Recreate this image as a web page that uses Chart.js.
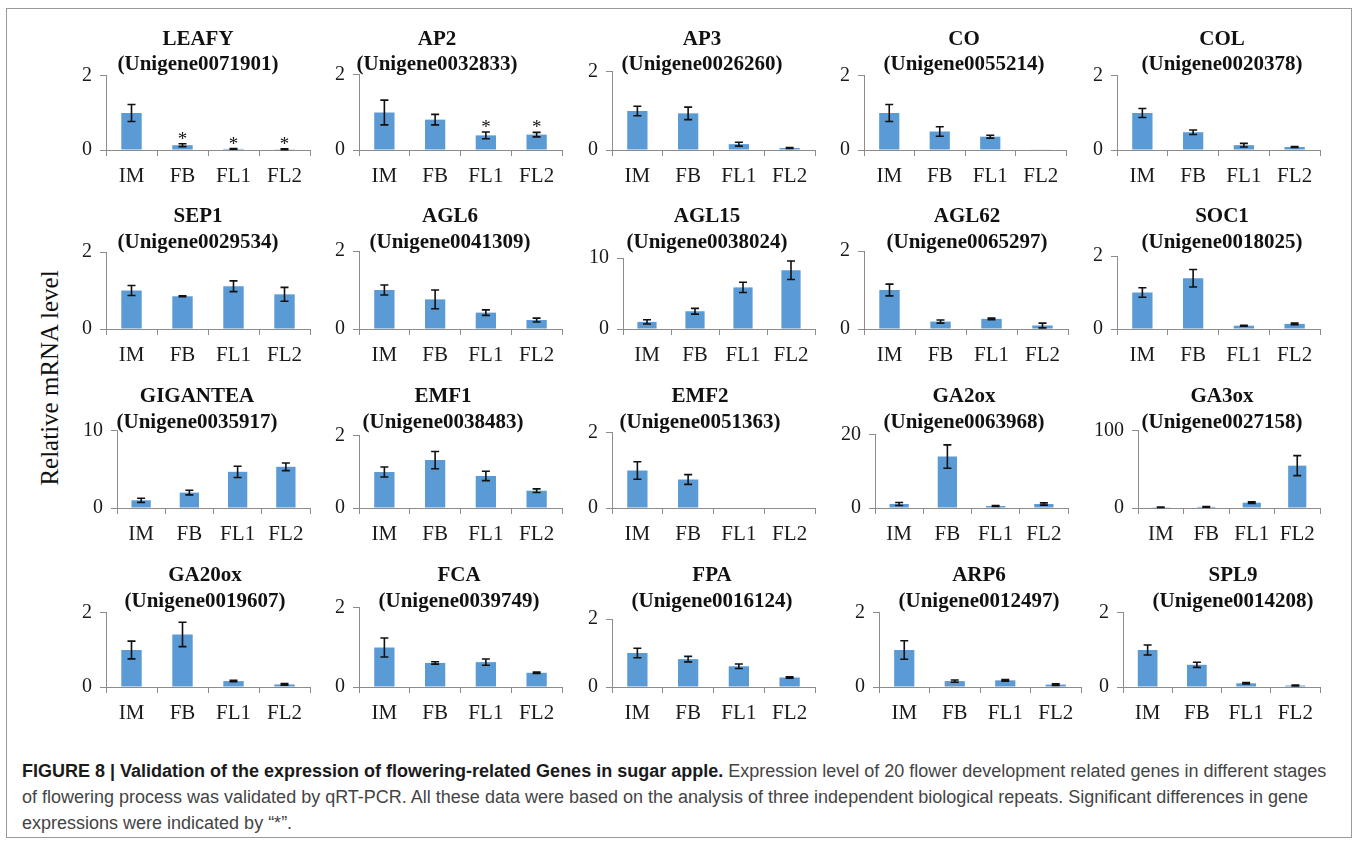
<!DOCTYPE html>
<html>
<head>
<meta charset="utf-8">
<script src="https://cdn.jsdelivr.net/npm/chart.js@4.4.1/dist/chart.umd.min.js"></script>
<style>
  html, body { margin: 0; padding: 0; background: #fff; }
  body { width: 1358px; height: 845px; position: relative; overflow: hidden; }
  #frame { position: absolute; left: 6px; top: 8px; width: 1346px; height: 830px;
           border: 1.5px solid #9a9a9a; box-sizing: border-box; }
  canvas.panel { position: absolute; }
  #ytitle { position: absolute; left: 50px; top: 378px; white-space: nowrap;
            font: 25px 'Liberation Serif', 'Times New Roman', serif; color: #111;
            transform: translate(-50%, -50%) rotate(-90deg); }
  #caption { position: absolute; left: 22px; top: 758px; white-space: nowrap;
             font: 18px 'Liberation Sans', Arial, sans-serif; line-height: 26px; color: #444; }
  #caption b { color: #1a1a1a; }
</style>
</head>
<body>
<div id="frame"></div>
<div id="ytitle">Relative mRNA level</div>
<div id="caption">
  <div><b>FIGURE 8 | Validation of the expression of flowering-related Genes in sugar apple.</b> Expression level of 20 flower development related genes in different stages</div>
  <div>of flowering process was validated by qRT-PCR. All these data were based on the analysis of three independent biological repeats. Significant differences in gene</div>
  <div>expressions were indicated by “*”.</div>
</div>
<script>
// ---- data -----------------------------------------------------------
const stages = ['IM', 'FB', 'FL1', 'FL2'];

const genes = ['LEAFY', 'AP2', 'AP3', 'CO', 'COL',
               'SEP1', 'AGL6', 'AGL15', 'AGL62', 'SOC1',
               'GIGANTEA', 'EMF1', 'EMF2', 'GA2ox', 'GA3ox',
               'GA20ox', 'FCA', 'FPA', 'ARP6', 'SPL9'];

const unigenes = ['Unigene0071901', 'Unigene0032833', 'Unigene0026260', 'Unigene0055214', 'Unigene0020378',
                  'Unigene0029534', 'Unigene0041309', 'Unigene0038024', 'Unigene0065297', 'Unigene0018025',
                  'Unigene0035917', 'Unigene0038483', 'Unigene0051363', 'Unigene0063968', 'Unigene0027158',
                  'Unigene0019607', 'Unigene0039749', 'Unigene0016124', 'Unigene0012497', 'Unigene0014208'];

// upper end of each value axis (ticks shown at 0 and here)
const axisMax = [2, 2, 2, 2, 2,
                 2, 2, 10, 2, 2,
                 10, 2, 2, 20, 100,
                 2, 2, 2, 2, 2];

// relative expression (IM, FB, FL1, FL2)
const relLevel = [
  [1.00, 0.13, 0.03, 0.02], [1.00, 0.81, 0.39, 0.41], [1.00, 0.94, 0.15, 0.05], [1.00, 0.50, 0.36, 0.01], [1.00, 0.48, 0.13, 0.08],
  [1.00, 0.85, 1.11, 0.90], [1.00, 0.76, 0.42, 0.23], [1.00, 2.50, 5.86, 8.28], [1.00, 0.19, 0.26, 0.09], [1.00, 1.39, 0.09, 0.14],
  [1.00, 2.00, 4.70, 5.35], [1.00, 1.33, 0.89, 0.48], [1.00, 0.76, 0.00, 0.00], [1.10, 14.1, 0.55, 1.10], [1.00, 1.50, 6.90, 55.0],
  [1.00, 1.42, 0.16, 0.07], [1.00, 0.61, 0.63, 0.36], [1.00, 0.82, 0.61, 0.28], [1.00, 0.16, 0.18, 0.065], [1.00, 0.60, 0.10, 0.04]
];

// standard deviation of the three biological repeats
const relSD = [
  [0.23, 0.04, 0.01, 0.01], [0.33, 0.14, 0.09, 0.06], [0.12, 0.16, 0.05, 0.01], [0.23, 0.13, 0.04, 0.00], [0.12, 0.06, 0.05, 0.01],
  [0.13, 0.01, 0.14, 0.18], [0.13, 0.24, 0.07, 0.05], [0.30, 0.40, 0.72, 1.30], [0.15, 0.04, 0.02, 0.06], [0.13, 0.24, 0.01, 0.02],
  [0.27, 0.30, 0.73, 0.50], [0.14, 0.24, 0.13, 0.05], [0.235, 0.13, 0.00, 0.00], [0.40, 3.20, 0.10, 0.30], [0.30, 0.40, 1.00, 13.0],
  [0.24, 0.33, 0.02, 0.02], [0.24, 0.03, 0.08, 0.02], [0.14, 0.08, 0.065, 0.02], [0.25, 0.03, 0.02, 0.02], [0.135, 0.07, 0.02, 0.01]
];

// stages marked as significantly different ("*")
const significant = [
  [0, 1, 1, 1], [0, 0, 1, 1], [0, 0, 0, 0], [0, 0, 0, 0], [0, 0, 0, 0],
  [0, 0, 0, 0], [0, 0, 0, 0], [0, 0, 0, 0], [0, 0, 0, 0], [0, 0, 0, 0],
  [0, 0, 0, 0], [0, 0, 0, 0], [0, 0, 0, 0], [0, 0, 0, 0], [0, 0, 0, 0],
  [0, 0, 0, 0], [0, 0, 0, 0], [0, 0, 0, 0], [0, 0, 0, 0], [0, 0, 0, 0]
];

// ---- page layout (pixels) -------------------------------------------
// per panel: plot left, plot right, plot top, title centre x
const panelBox = [
  [106, 310, 76, 198], [359, 562, 75, 437], [612, 815, 72, 702], [864, 1066, 76, 964], [1117, 1320, 76, 1222],
  [106, 310, 252, 198], [359, 562, 251, 450], [623, 815, 258, 707], [864, 1068, 251, 967], [1117, 1320, 256, 1222],
  [117, 310, 431, 197], [359, 562, 436, 443], [612, 815, 433, 700], [875, 1068, 435, 964], [1138, 1320, 431, 1222],
  [106, 310, 613, 205], [359, 562, 608, 459], [612, 815, 619, 712], [879, 1081, 613, 979], [1123, 1320, 613, 1233]
];
const rowTitleY = [39.5, 217, 397, 576];   // centre of the gene-name line
const rowZeroY = [150, 329.3, 508, 687.3]; // baseline of the bars

const SERIF = "'Liberation Serif', 'Times New Roman', serif";
const AXIS_GREY = '#8c8c8c';
const BAR_BLUE = '#5B9BD5';
const TITLE_SIZE = 21, TITLE_LH = 1.21;
const Y_AXIS_W = 60, X_AXIS_H = 42, PAD_R = 8;

Chart.defaults.font.family = SERIF;
Chart.defaults.color = '#1a1a1a';

// place the title block centred on a given x (canvas coordinates)
const titleShift = {
  id: 'titleShift',
  afterLayout(chart, args, opts) {
    const tb = chart.titleBlock;
    if (!tb || opts.centerX == null) return;
    const w = tb.right - tb.left;
    tb.left = opts.centerX - w / 2;
    tb.right = opts.centerX + w / 2;
  }
};

// error bars and significance stars on top of the bars
const errorBars = {
  id: 'errorBars',
  afterDatasetsDraw(chart, args, opts) {
    const ctx = chart.ctx;
    const y = chart.scales.y;
    const meta = chart.getDatasetMeta(0);
    const vals = chart.data.datasets[0].data;
    ctx.save();
    meta.data.forEach((bar, i) => {
      const v = vals[i], e = opts.sd[i];
      const top = y.getPixelForValue(v + e);
      if (e > 0) {
        const bot = y.getPixelForValue(Math.max(v - e, 0));
        ctx.strokeStyle = '#111';
        ctx.lineWidth = 1.6;
        ctx.beginPath();
        ctx.moveTo(bar.x, top); ctx.lineTo(bar.x, bot);
        ctx.moveTo(bar.x - 4, top); ctx.lineTo(bar.x + 4, top);
        ctx.moveTo(bar.x - 4, bot); ctx.lineTo(bar.x + 4, bot);
        ctx.stroke();
      }
      if (opts.sig[i]) {
        ctx.fillStyle = '#111';
        ctx.font = '19px ' + SERIF;
        ctx.textAlign = 'center';
        ctx.textBaseline = 'alphabetic';
        ctx.fillText('*', bar.x, top + 1);
      }
    });
    ctx.restore();
  }
};

genes.forEach((gene, k) => {
  const row = Math.floor(k / 5);
  const [L, R, plotTop, titleX] = panelBox[k];
  const left = L - Y_AXIS_W;
  const width = R - left + PAD_R;
  const top = Math.round(rowTitleY[row] - 26);
  const titleTopPad = rowTitleY[row] - top - TITLE_SIZE * TITLE_LH / 2;
  const titleBotPad = plotTop - (top + titleTopPad + 2 * TITLE_SIZE * TITLE_LH);
  const height = Math.round(rowZeroY[row] + X_AXIS_H - top);

  const cv = document.createElement('canvas');
  cv.className = 'panel';
  cv.width = width; cv.height = height;
  cv.style.left = left + 'px'; cv.style.top = top + 'px';
  cv.style.width = width + 'px'; cv.style.height = height + 'px';
  document.body.appendChild(cv);

  new Chart(cv, {
    type: 'bar',
    data: {
      labels: stages,
      datasets: [{
        data: relLevel[k],
        backgroundColor: BAR_BLUE,
        borderWidth: 0,
        barPercentage: 0.4,
        categoryPercentage: 1.0
      }]
    },
    options: {
      responsive: false,
      animation: false,
      devicePixelRatio: 1,
      layout: { padding: { left: 0, right: PAD_R, top: 0, bottom: 0 } },
      plugins: {
        legend: { display: false },
        tooltip: { enabled: false },
        title: {
          display: true,
          text: [gene, '(' + unigenes[k] + ')'],
          color: '#111',
          font: { family: SERIF, size: TITLE_SIZE, weight: 'bold', lineHeight: TITLE_LH },
          padding: { top: titleTopPad, bottom: titleBotPad }
        },
        titleShift: { centerX: titleX - left },
        errorBars: { sd: relSD[k], sig: significant[k] }
      },
      scales: {
        x: {
          grid: { display: true, drawOnChartArea: false, drawTicks: true, tickLength: 6, color: AXIS_GREY, offset: true },
          border: { display: true, color: AXIS_GREY, width: 1 },
          ticks: { font: { size: 21 }, padding: 8, maxRotation: 0, autoSkip: false, color: '#1a1a1a' },
          afterFit(s) { s.height = X_AXIS_H; }
        },
        y: {
          min: 0,
          max: axisMax[k],
          grid: { display: true, drawOnChartArea: false, drawTicks: true, tickLength: 6, color: AXIS_GREY },
          border: { display: true, color: AXIS_GREY, width: 1 },
          ticks: { stepSize: axisMax[k], font: { size: 20 }, padding: 8, color: '#1a1a1a' },
          afterFit(s) { s.width = Y_AXIS_W; }
        }
      }
    },
    plugins: [titleShift, errorBars]
  });
});
</script>
</body>
</html>
